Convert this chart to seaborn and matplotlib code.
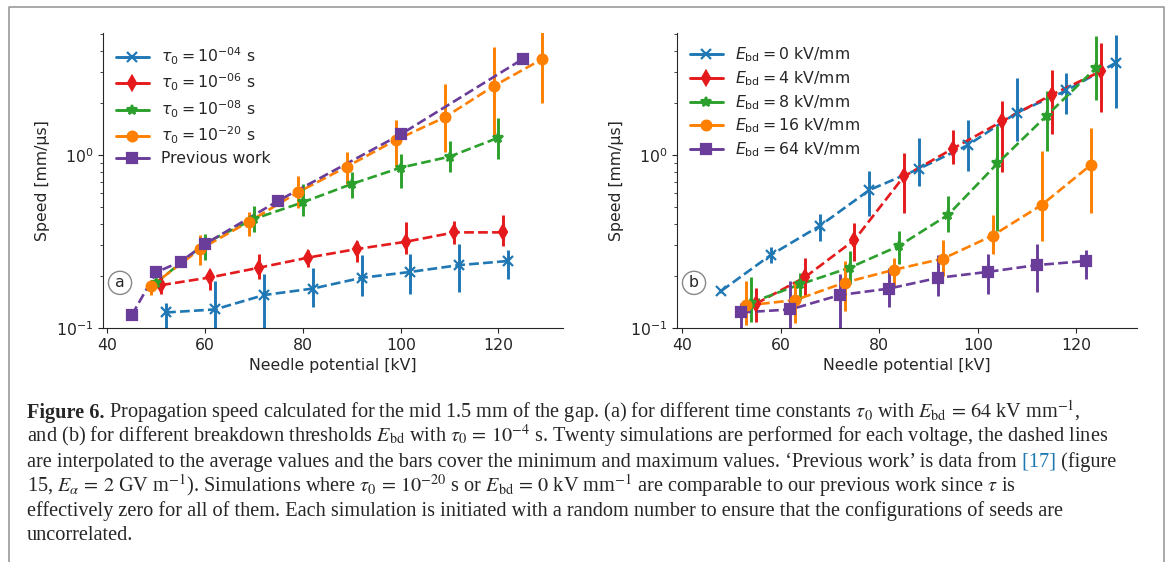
import numpy as np
import matplotlib
matplotlib.use('Agg')
import matplotlib.pyplot as plt
import seaborn as sns
from matplotlib.lines import Line2D

# --- (a) different time constants tau0, E_bd = 64 kV/mm ---
tau4_x = [52, 62, 72, 82, 92, 102, 112, 122]
tau4_y = [0.123, 0.128, 0.155, 0.169, 0.195, 0.211, 0.231, 0.244]
tau4_lo = [0.08, 0.08, 0.08, 0.133, 0.154, 0.157, 0.162, 0.191]
tau4_hi = [0.139, 0.188, 0.204, 0.223, 0.263, 0.266, 0.305, 0.282]

tau6_x = [51, 61, 71, 81, 91, 101, 111, 121]
tau6_y = [0.177, 0.196, 0.223, 0.255, 0.286, 0.315, 0.357, 0.357]
tau6_lo = [0.158, 0.166, 0.191, 0.224, 0.240, 0.268, 0.305, 0.298]
tau6_hi = [0.193, 0.216, 0.268, 0.282, 0.318, 0.408, 0.417, 0.450]

tau8_x = [50, 60, 70, 80, 90, 100, 110, 120]
tau8_y = [0.183, 0.309, 0.427, 0.533, 0.680, 0.845, 0.978, 1.26]
tau8_lo = [0.170, 0.247, 0.360, 0.446, 0.567, 0.647, 0.80, 0.944]
tau8_hi = [0.195, 0.349, 0.507, 0.677, 0.80, 1.01, 1.205, 1.63]

tau20_x = [49, 59, 69, 79, 89, 99, 109, 119, 129]
tau20_y = [0.175, 0.286, 0.412, 0.609, 0.856, 1.22, 1.65, 2.50, 3.59]
tau20_lo = [0.155, 0.231, 0.340, 0.496, 0.677, 0.856, 1.045, 1.30, 2.01]
tau20_hi = [0.19, 0.345, 0.470, 0.760, 1.036, 1.59, 2.56, 4.23, 5.5]

prev_x = [45, 50, 55, 60, 75, 100, 125]
prev_y = [0.119, 0.210, 0.242, 0.306, 0.545, 1.316, 3.59]

# --- (b) different breakdown thresholds, tau0 = 1e-4 s ---
e0_x = [48, 58, 68, 78, 88, 98, 108, 118, 128]
e0_y = [0.164, 0.264, 0.390, 0.627, 0.830, 1.14, 1.76, 2.36, 3.41]
e0_lo = [0.160, 0.239, 0.319, 0.445, 0.664, 0.804, 1.20, 1.73, 1.87]
e0_hi = [0.168, 0.292, 0.455, 0.811, 1.25, 1.59, 2.78, 2.97, 4.91]

e4_x = [55, 65, 75, 85, 95, 105, 115, 125]
e4_y = [0.138, 0.197, 0.323, 0.751, 1.09, 1.57, 2.23, 3.05]
e4_lo = [0.108, 0.153, 0.244, 0.461, 0.887, 0.793, 1.33, 1.78]
e4_hi = [0.170, 0.255, 0.407, 1.03, 1.40, 2.04, 3.10, 4.43]

e8_x = [54, 64, 74, 84, 94, 104, 114, 124]
e8_y = [0.140, 0.179, 0.223, 0.298, 0.451, 0.894, 1.69, 3.19]
e8_lo = [0.108, 0.146, 0.179, 0.234, 0.361, 0.365, 1.05, 2.08]
e8_hi = [0.196, 0.209, 0.277, 0.365, 0.581, 1.48, 2.33, 4.84]

e16_x = [53, 63, 73, 83, 93, 103, 113, 123]
e16_y = [0.135, 0.145, 0.183, 0.217, 0.252, 0.342, 0.515, 0.879]
e16_lo = [0.1035, 0.107, 0.125, 0.175, 0.200, 0.267, 0.319, 0.459]
e16_hi = [0.187, 0.183, 0.244, 0.255, 0.322, 0.451, 1.06, 1.44]

# E_bd = 64 kV/mm is the same run set as tau0 = 1e-4 s in (a)
e64_x, e64_y, e64_lo, e64_hi = tau4_x, tau4_y, tau4_lo, tau4_hi

BLUE, RED, GREEN, ORANGE, PURPLE = '#1f77b4', '#e41a1c', '#2ca02c', '#ff7f00', '#6a3d9a'

labels_a = [r'$\tau_0 = 10^{-04}$ s', r'$\tau_0 = 10^{-06}$ s', r'$\tau_0 = 10^{-08}$ s',
            r'$\tau_0 = 10^{-20}$ s', 'Previous work']
labels_b = [r'$E_{\rm bd} = 0$ kV/mm', r'$E_{\rm bd} = 4$ kV/mm', r'$E_{\rm bd} = 8$ kV/mm',
            r'$E_{\rm bd} = 16$ kV/mm', r'$E_{\rm bd} = 64$ kV/mm']
colors = [BLUE, RED, GREEN, ORANGE, PURPLE]
markers = ['x', 'd', '*', 'o', 's']

FS = 11.3


def plot_series(ax, x, y, lo, hi, color, marker):
    # 破線（平均値）＋ 最小・最大のバー
    sns.lineplot(x=x, y=y, ax=ax, color=color, linestyle='--', linewidth=1.9)
    yerr = None
    if lo is not None:
        yerr = [np.array(y) - np.array(lo), np.array(hi) - np.array(y)]
    ax.errorbar(x, y, yerr=yerr, fmt=marker, color=color, ms=7, mew=1.6,
                elinewidth=2.1, capsize=0)


def style_axes(ax, letter, xlim):
    ax.set_yscale('log')
    ax.set_ylim(0.1, 5.07)
    ax.set_xlim(*xlim)
    ax.set_xticks([40, 60, 80, 100, 120])
    ax.set_xlabel('Needle potential [kV]', fontsize=FS)
    ax.set_ylabel('Speed [mm/μs]', fontsize=FS)
    ax.tick_params(labelsize=FS)
    sns.despine(ax=ax)
    ax.text(0.037, 0.153, letter, transform=ax.transAxes, ha='center', va='center',
            fontsize=FS, bbox=dict(boxstyle='circle,pad=0.26', fc='white', ec='#888888', lw=1))


sns.set_style('ticks')
plt.rcParams['font.family'] = ['DejaVu Sans']
plt.rcParams['mathtext.fontset'] = 'dejavusans'

fig = plt.figure(figsize=(11.68, 5.62), dpi=100)
W, H = 1168, 562
ax1 = fig.add_axes([103 / W, (H - 328) / H, 460 / W, 295 / H])
ax2 = fig.add_axes([677 / W, (H - 328) / H, 460 / W, 295 / H])

# --- (a) ---
plot_series(ax1, tau4_x, tau4_y, tau4_lo, tau4_hi, BLUE, 'x')
plot_series(ax1, tau6_x, tau6_y, tau6_lo, tau6_hi, RED, 'd')
plot_series(ax1, tau8_x, tau8_y, tau8_lo, tau8_hi, GREEN, '*')
plot_series(ax1, tau20_x, tau20_y, tau20_lo, tau20_hi, ORANGE, 'o')
plot_series(ax1, prev_x, prev_y, None, None, PURPLE, 's')
style_axes(ax1, 'a', (39.1, 133.2))

# --- (b) ---
plot_series(ax2, e0_x, e0_y, e0_lo, e0_hi, BLUE, 'x')
plot_series(ax2, e4_x, e4_y, e4_lo, e4_hi, RED, 'd')
plot_series(ax2, e8_x, e8_y, e8_lo, e8_hi, GREEN, '*')
plot_series(ax2, e16_x, e16_y, e16_lo, e16_hi, ORANGE, 'o')
plot_series(ax2, e64_x, e64_y, e64_lo, e64_hi, PURPLE, 's')
style_axes(ax2, 'b', (39.0, 132.3))

for ax, labels in [(ax1, labels_a), (ax2, labels_b)]:
    handles = [Line2D([0], [0], color=c, marker=m, lw=2.1, ms=7, mew=1.6, label=l)
               for c, m, l in zip(colors, markers, labels)]
    ax.legend(handles=handles, loc='upper left', frameon=False, fontsize=FS,
              handlelength=2.1, handletextpad=0.8, labelspacing=0.32,
              borderaxespad=0.4)

# --- ページ枠 ---
fig.add_artist(Line2D([9 / W, 9 / W, 1164 / W, 1164 / W], [0, 1 - 7 / H, 1 - 7 / H, 0],
                      transform=fig.transFigure, color='#9a9a9a', lw=1.2))

# --- キャプション ---
cap_fs = 14.6
cap_kw = dict(fontsize=cap_fs, family='Liberation Serif', math_fontfamily='stix', va='baseline')
caption_lines = [
    [('Figure 6.', dict(fontweight='bold')),
     (r' Propagation speed calculated for the mid 1.5 mm of the gap. (a) for different time constants '
      r'$\tau_0$ with $E_{\rm bd}\,=\,64$ kV mm$^{-1}$,', {})],
    [(r'and (b) for different breakdown thresholds $E_{\rm bd}$ with $\tau_0\,=\,10^{-4}$ s. '
      r'Twenty simulations are performed for each voltage, the dashed lines', {})],
    [('are interpolated to the average values and the bars cover the minimum and maximum values. '
      '\u2018Previous work\u2019 is data from', {}),
     (' [17]', dict(color='#1f78b4')),
     (' (figure', {})],
    [(r'15, $E_\alpha\,=\,2$ GV m$^{-1}$). Simulations where $\tau_0\,=\,10^{-20}$ s or '
      r'$E_{\rm bd}\,=\,0$ kV mm$^{-1}$ are comparable to our previous work since $\tau$ is', {})],
    [('effectively zero for all of them. Each simulation is initiated with a random number '
      'to ensure that the configurations of seeds are', {})],
    [('uncorrelated.', {})],
]
renderer = fig.canvas.get_renderer()
for i, parts in enumerate(caption_lines):
    y = 1 - (418 + 24.4 * i) / H
    x = 27 / W
    for txt, kw in parts:
        t = fig.text(x, y, txt, **cap_kw, **kw)
        bb = t.get_window_extent(renderer)
        x = bb.x1 / fig.bbox.width

fig.savefig('out.png', dpi=100)
